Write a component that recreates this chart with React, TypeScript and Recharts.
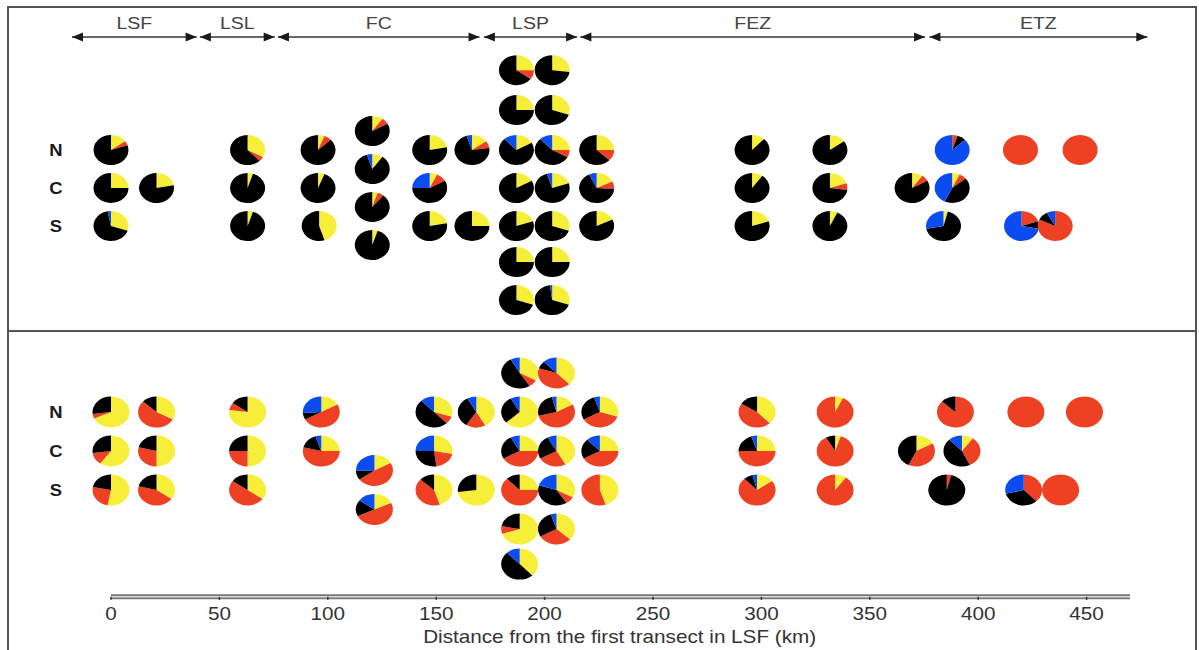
import React from "react"
import { ScatterChart, Scatter, XAxis, YAxis, ReferenceLine, Sector } from "recharts"

// slice order, clockwise from 12 o'clock: yellow, red, black, blue
const pieColors = ["#F7EE3A", "#EE4124", "#000000", "#0B4CF0"]

const zones = [
  { name: "LSF", start: -18, end: 39.5 },
  { name: "LSL", start: 41, end: 75.5 },
  { name: "FC", start: 77, end: 170 },
  { name: "LSP", start: 172, end: 215 },
  { name: "FEZ", start: 216.5, end: 375.5 },
  { name: "ETZ", start: 377.5, end: 478 },
]

const rowLabels = [
  { label: "N", y: 3 },
  { label: "C", y: 2 },
  { label: "S", y: 1 },
]

const xTicks = [0, 50, 100, 150, 200, 250, 300, 350, 400, 450]

// c = [yellow, red, black, blue] (%)
const topPies = [
  { x: 0, y: 3, c: [15, 5, 80, 0] },
  { x: 0, y: 2, c: [25, 0, 75, 0] },
  { x: 21, y: 2, c: [22, 0, 78, 0] },
  { x: 0, y: 1, c: [30, 0, 67, 3] },
  { x: 63, y: 3, c: [33, 5, 62, 0] },
  { x: 63, y: 2, c: [5, 0, 95, 0] },
  { x: 63, y: 1, c: [5, 0, 95, 0] },
  { x: 95.5, y: 3, c: [6, 7, 87, 0] },
  { x: 95.5, y: 2, c: [6, 0, 94, 0] },
  { x: 96, y: 1, c: [45, 0, 55, 0] },
  { x: 120.5, y: 3.5, c: [10, 7, 83, 0] },
  { x: 120.5, y: 2.5, c: [10, 0, 85, 5] },
  { x: 120.5, y: 1.5, c: [5, 6, 89, 0] },
  { x: 120.5, y: 0.5, c: [5, 0, 95, 0] },
  { x: 147, y: 3, c: [22, 0, 78, 0] },
  { x: 147, y: 2, c: [7, 10, 58, 25] },
  { x: 147, y: 1, c: [22, 0, 78, 0] },
  { x: 166.5, y: 3, c: [15, 8, 72, 5] },
  { x: 166.5, y: 1, c: [25, 0, 75, 0] },
  { x: 187, y: 5.1, c: [25, 10, 65, 0] },
  { x: 187, y: 4.05, c: [25, 0, 75, 0] },
  { x: 187, y: 3, c: [17, 0, 71, 12] },
  { x: 187, y: 2, c: [17, 0, 83, 0] },
  { x: 187, y: 1, c: [20, 0, 80, 0] },
  { x: 187, y: 0.05, c: [25, 0, 75, 0] },
  { x: 187, y: -0.95, c: [30, 0, 70, 0] },
  { x: 203.5, y: 5.1, c: [27, 0, 73, 0] },
  { x: 203.5, y: 4.05, c: [30, 0, 70, 0] },
  { x: 203.5, y: 3, c: [25, 8, 55, 12] },
  { x: 203.5, y: 2, c: [20, 0, 75, 5] },
  { x: 203.5, y: 1, c: [30, 0, 70, 0] },
  { x: 203.5, y: 0.05, c: [25, 0, 75, 0] },
  { x: 203.5, y: -0.95, c: [30, 0, 68, 2] },
  { x: 224, y: 3, c: [25, 12, 63, 0] },
  { x: 224, y: 2, c: [18, 8, 67, 7] },
  { x: 224, y: 1, c: [18, 0, 82, 0] },
  { x: 295.7, y: 3, c: [12, 0, 88, 0] },
  { x: 295.7, y: 2, c: [10, 0, 90, 0] },
  { x: 295.7, y: 1, c: [20, 0, 80, 0] },
  { x: 331.6, y: 3, c: [15, 0, 85, 0] },
  { x: 331.6, y: 2, c: [20, 7, 73, 0] },
  { x: 331.6, y: 1, c: [7, 0, 93, 0] },
  { x: 369.5, y: 2, c: [10, 7, 83, 0] },
  { x: 388, y: 3, c: [0, 5, 8, 87] },
  { x: 388, y: 2, c: [7, 7, 43, 43] },
  { x: 384, y: 1, c: [4, 0, 68, 28] },
  { x: 419.5, y: 3, c: [0, 100, 0, 0] },
  { x: 447, y: 3, c: [0, 100, 0, 0] },
  { x: 420, y: 1, c: [0, 20, 8, 72] },
  { x: 435.5, y: 1, c: [0, 82, 10, 8] },
]

const bottomPies = [
  { x: 0, y: 3, c: [68, 5, 27, 0] },
  { x: 0, y: 2, c: [60, 13, 27, 0] },
  { x: 0, y: 1, c: [53, 25, 22, 0] },
  { x: 21, y: 3, c: [33, 54, 13, 0] },
  { x: 21, y: 2, c: [50, 29, 21, 0] },
  { x: 21, y: 1, c: [35, 44, 21, 0] },
  { x: 63, y: 3, c: [77, 8, 15, 0] },
  { x: 63, y: 2, c: [50, 25, 25, 0] },
  { x: 63, y: 1, c: [35, 50, 15, 0] },
  { x: 97, y: 3, c: [17, 50, 7, 26] },
  { x: 97, y: 2, c: [25, 54, 16, 5] },
  { x: 121.5, y: 1.5, c: [17, 48, 10, 25] },
  { x: 121.5, y: 0.5, c: [18, 50, 17, 15] },
  { x: 149, y: 3, c: [30, 8, 50, 12] },
  { x: 149, y: 2, c: [28, 20, 27, 25] },
  { x: 149, y: 1, c: [45, 42, 13, 0] },
  { x: 168.5, y: 3, c: [42, 17, 33, 8] },
  { x: 168.5, y: 1, c: [73, 0, 27, 0] },
  { x: 188.5, y: 4, c: [33, 8, 51, 8] },
  { x: 188.5, y: 3, c: [63, 0, 29, 8] },
  { x: 188.5, y: 2, c: [25, 42, 25, 8] },
  { x: 188.5, y: 1, c: [25, 63, 12, 0] },
  { x: 188.5, y: 0, c: [70, 8, 22, 0] },
  { x: 188.5, y: -0.9, c: [38, 0, 50, 12] },
  { x: 205.5, y: 4, c: [38, 42, 8, 12] },
  { x: 205.5, y: 3, c: [17, 54, 25, 4] },
  { x: 205.5, y: 2, c: [42, 25, 25, 8] },
  { x: 205.5, y: 1, c: [33, 8, 39, 20] },
  { x: 205.5, y: 0, c: [37, 30, 28, 5] },
  { x: 225.5, y: 3, c: [30, 37, 28, 5] },
  { x: 225.5, y: 2, c: [25, 42, 21, 12] },
  { x: 225.5, y: 1, c: [45, 55, 0, 0] },
  { x: 298, y: 3, c: [38, 46, 16, 0] },
  { x: 298, y: 2, c: [25, 50, 20, 5] },
  { x: 298, y: 1, c: [15, 73, 8, 4] },
  { x: 334, y: 3, c: [7, 93, 0, 0] },
  { x: 334, y: 2, c: [5, 87, 8, 0] },
  { x: 334, y: 1, c: [10, 90, 0, 0] },
  { x: 371.5, y: 2, c: [17, 40, 43, 0] },
  { x: 389.5, y: 3, c: [0, 87, 13, 0] },
  { x: 392.5, y: 2, c: [10, 33, 45, 12] },
  { x: 385.5, y: 1, c: [0, 4, 96, 0] },
  { x: 422, y: 3, c: [0, 100, 0, 0] },
  { x: 449, y: 3, c: [0, 100, 0, 0] },
  { x: 421, y: 1, c: [0, 38, 33, 29] },
  { x: 438, y: 1, c: [0, 100, 0, 0] },
]

const W = 1199
const FONT = "'Liberation Sans', Arial, sans-serif"
// the source figure is stretched horizontally, text included
const STRETCH = 1.15
const X_DOMAIN: [number, number] = [-40, 500]
// page x of 0 km and px per km
const PX0 = 111
const PX_KM = 2.168
const marginLeft = PX0 + PX_KM * X_DOMAIN[0]
const marginRight = W - (PX0 + PX_KM * X_DOMAIN[1])

// top panel
const TOP_H = 331
const TOP_ROW = 38
const TOP_C = 188
const TOP_Y: [number, number] = [-1.5, 6.9]
const topMarginTop = TOP_C - (TOP_Y[1] - 2) * TOP_ROW
const topMarginBottom = TOP_H - topMarginTop - (TOP_Y[1] - TOP_Y[0]) * TOP_ROW
const ARROW_Y = 2 + (TOP_C - 37) / TOP_ROW
const ZONE_LABEL_Y = 2 + (TOP_C - 23) / TOP_ROW

// bottom panel
const BOT_TOP = 331
const BOT_H = 650 - BOT_TOP
const BOT_ROW = 39
const BOT_C = 451 - BOT_TOP
const BOT_Y: [number, number] = [-1.74, 5]
const botMarginTop = BOT_C - (BOT_Y[1] - 2) * BOT_ROW
const axisHeight = BOT_H - botMarginTop - (BOT_Y[1] - BOT_Y[0]) * BOT_ROW

const makePie = (rx: number, ry: number) => (props: any) => {
  const { cx, cy, payload } = props
  const vals: number[] = payload.c
  const total = vals.reduce((a, b) => a + b, 0)
  let angle = 90
  return (
    <g transform={`translate(${cx},${cy}) scale(${rx / ry},1)`}>
      {vals.map((v, i) => {
        if (!v) return null
        const start = angle
        const end = angle - (v / total) * 360
        angle = end
        return (
          <Sector
            key={i}
            cx={0}
            cy={0}
            innerRadius={0}
            outerRadius={ry}
            startAngle={start}
            endAngle={end}
            fill={pieColors[i]}
          />
        )
      })}
    </g>
  )
}

const WideText = ({ x, y, size, weight, fill, children }: any) => (
  <text
    transform={`translate(${x},${y}) scale(${STRETCH},1)`}
    textAnchor="middle"
    fontFamily={FONT}
    fontSize={size}
    fontWeight={weight || "normal"}
    fill={fill}
  >
    {children}
  </text>
)

const rowLabel = (props: any) => (
  <WideText x={props.cx} y={props.cy + 6} size={16} weight="bold" fill="#1a1a1a">
    {props.payload.label}
  </WideText>
)

const zoneLabel = (props: any) => (
  <WideText x={props.cx} y={props.cy + 6} size={17} fill="#444">
    {props.payload.name}
  </WideText>
)

const arrowHead = (props: any) => {
  const { cx, cy, payload } = props
  const d = payload.dir
  return (
    <polygon
      points={`${cx},${cy} ${cx - d * 11},${cy - 4.5} ${cx - d * 11},${cy + 4.5}`}
      fill="#1a1a1a"
    />
  )
}

const xTick = (props: any) => (
  <WideText x={props.x} y={props.y + 15} size={18} fill="#333">
    {props.payload.value}
  </WideText>
)

const axisTitle = (props: any) => {
  const vb = props.viewBox
  return (
    <WideText x={vb.x + vb.width / 2 + 10} y={vb.y + vb.height - 7} size={18} fill="#333">
      Distance from the first transect in LSF (km)
    </WideText>
  )
}

export default function App() {
  const zoneMids = zones.map((z) => ({ x: (z.start + z.end) / 2, y: ZONE_LABEL_Y, name: z.name }))
  const heads = zones.flatMap((z) => [
    { x: z.start, y: ARROW_Y, dir: -1 },
    { x: z.end, y: ARROW_Y, dir: 1 },
  ])
  const rowPts = rowLabels.map((r) => ({ ...r, x: -25.4 }))

  return (
    <div
      style={{
        position: "absolute",
        left: 0,
        top: 0,
        width: W,
        height: 650,
        overflow: "hidden",
        background: "#fff",
        fontFamily: FONT,
      }}
    >
      <div style={{ position: "absolute", left: 0, top: 0 }}>
        <ScatterChart
          width={W}
          height={TOP_H}
          margin={{ top: topMarginTop, right: marginRight, bottom: topMarginBottom, left: marginLeft }}
        >
          <XAxis type="number" dataKey="x" domain={X_DOMAIN} allowDataOverflow hide />
          <YAxis type="number" dataKey="y" domain={TOP_Y} allowDataOverflow hide />
          {zones.map((z) => (
            <ReferenceLine
              key={z.name}
              segment={[
                { x: z.start, y: ARROW_Y },
                { x: z.end, y: ARROW_Y },
              ]}
              stroke="#333"
              strokeWidth={1.5}
              ifOverflow="visible"
            />
          ))}
          <Scatter data={heads} shape={arrowHead} isAnimationActive={false} />
          <Scatter data={zoneMids} shape={zoneLabel} isAnimationActive={false} />
          <Scatter data={rowPts} shape={rowLabel} isAnimationActive={false} />
          <Scatter data={topPies} shape={makePie(17.5, 15)} isAnimationActive={false} />
        </ScatterChart>
      </div>
      <div style={{ position: "absolute", left: 0, top: BOT_TOP }}>
        <ScatterChart
          width={W}
          height={BOT_H}
          margin={{ top: botMarginTop, right: marginRight, bottom: 0, left: marginLeft }}
        >
          <XAxis
            type="number"
            dataKey="x"
            domain={X_DOMAIN}
            allowDataOverflow
            ticks={xTicks}
            axisLine={false}
            tickLine={{ stroke: "#333", strokeWidth: 1.5 }}
            tickSize={3}
            tickMargin={5}
            height={axisHeight}
            tick={xTick}
            label={{ position: "insideBottom", content: axisTitle }}
          />
          <YAxis type="number" dataKey="y" domain={BOT_Y} allowDataOverflow hide />
          <ReferenceLine
            segment={[
              { x: 0, y: BOT_Y[0] },
              { x: 470, y: BOT_Y[0] },
            ]}
            stroke="#777"
            strokeWidth={5}
            ifOverflow="visible"
          />
          <ReferenceLine
            segment={[
              { x: 0, y: BOT_Y[0] },
              { x: 470, y: BOT_Y[0] },
            ]}
            stroke="#dcdcdc"
            strokeWidth={1.5}
            ifOverflow="visible"
          />
          <Scatter data={rowPts} shape={rowLabel} isAnimationActive={false} />
          <Scatter data={bottomPies} shape={makePie(18.5, 15.5)} isAnimationActive={false} />
        </ScatterChart>
      </div>
      <div
        style={{
          position: "absolute",
          left: 7,
          top: 6,
          width: 1190,
          height: 700,
          border: "2px solid #555",
          boxSizing: "border-box",
          pointerEvents: "none",
        }}
      />
      <div
        style={{
          position: "absolute",
          left: 7,
          top: 330,
          width: 1190,
          height: 2,
          background: "#555",
          pointerEvents: "none",
        }}
      />
    </div>
  )
}
